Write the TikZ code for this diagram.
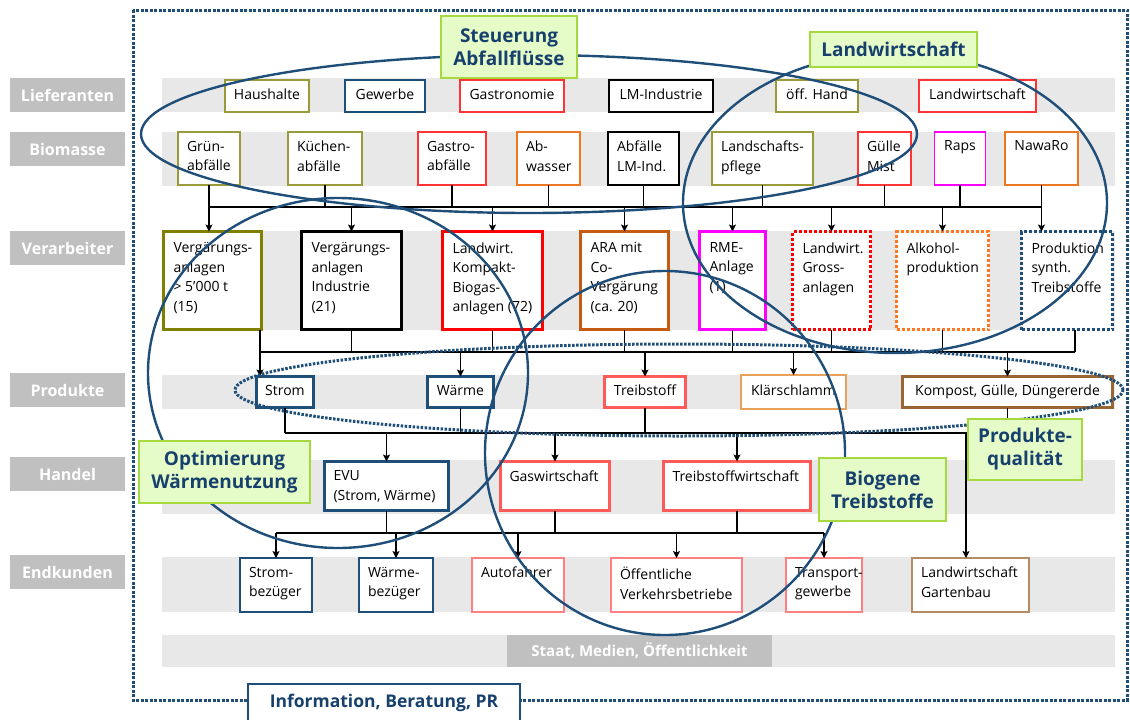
\documentclass[tikz,border=0pt]{standalone}
\usepackage{fontspec}
\setmainfont{Open Sans}
\usetikzlibrary{arrows.meta}
\definecolor{blau}{HTML}{1F4E79}
\definecolor{themablau}{HTML}{17406D}
\definecolor{oliv}{HTML}{9A9A3A}
\definecolor{olivdick}{HTML}{7F7F00}
\definecolor{rot}{HTML}{FF3333}
\definecolor{rotdick}{HTML}{FF0000}
\definecolor{koralle}{HTML}{FF5A5A}
\definecolor{rosa}{HTML}{FF8080}
\definecolor{orangehell}{HTML}{EE7722}
\definecolor{orangepunkt}{HTML}{FF7722}
\definecolor{ara}{HTML}{C55A11}
\definecolor{violett}{HTML}{FF00FF}
\definecolor{braun}{HTML}{996633}
\definecolor{hellbraun}{HTML}{B48C64}
\definecolor{klaer}{HTML}{E8A05A}
\definecolor{bandgrau}{HTML}{E8E8E8}
\definecolor{zeilgrau}{HTML}{C0C0C0}
\definecolor{gruen}{HTML}{E5FCC9}
\definecolor{gruenrand}{HTML}{A6D83F}
\newcommand\boxfont{\fontsize{14}{19.5}\selectfont}

\begin{document}
\begin{tikzpicture}[x=1pt,y=-1pt,>={Stealth[length=7pt,width=7pt,inset=1.5pt]},
  zeile/.style={fill=zeilgrau,text=white,font=\bfseries\fontsize{16}{19}\selectfont,
    minimum width=115,minimum height=34,inner sep=0pt},
  kasten/.style={draw,fill=white,line width=1.2pt,inner sep=0pt,outer sep=0pt,font=\boxfont},
  dick/.style={kasten,line width=3pt},
  punkt/.style={dick,dash pattern=on 3pt off 2pt},
  einzeil/.style={text height=10pt,text depth=3pt},
  txt/.style={font=\boxfont,align=left,inner xsep=9pt,inner ysep=9pt,outer sep=0pt},
  ol/.style={label={[txt,anchor=north west]north west:#1}},
  oc/.style={label={[txt,anchor=north]north:#1}},
  linie/.style={line width=1.1pt},
  ring/.style={draw=blau,line width=2.4pt},
  thema/.style={draw=gruenrand,fill=gruen,line width=1.2pt,text=themablau,
    font=\bfseries\fontsize{19}{23}\selectfont,align=center,inner sep=0pt}]
  \useasboundingbox (0,0) rectangle (1130,720);

  % Baender
  \foreach \ya/\yb in {78/112,132/186,231/330,375/409,460/514,557/612,635/667}
    \fill[bandgrau] (162,\ya) rectangle (1115,\yb);

  % Zeilen
  \foreach \nm/\y/\beschr in {lief/95/Lieferanten,bio/149/Biomasse,verarb/248/Verarbeiter,
      prod/390/Produkte,handel/474/Handel,endk/572/Endkunden}
    \node[zeile] (\nm) at (67.5,\y) {\beschr};
  \node[zeile,minimum width=265,minimum height=32,font=\bfseries\fontsize{15}{18}\selectfont]
    (staat) at (639.5,651) {Staat, Medien, Öffentlichkeit};

  % Rahmen
  \draw[blau,line width=3pt,dash pattern=on 3pt off 1.5pt] (133,10) rectangle (1127,700);

  % Lieferanten
  \foreach \nm/\xa/\xb/\farbe/\beschr in {haus/225/309/oliv/Haushalte,gew/345/425/blau/Gewerbe,
      gas/460/564/rot/Gastronomie,lmi/609/713/black/LM-Industrie,oeff/776/858/oliv/öff. Hand,
      lw/919/1036/rot/Landwirtschaft}
    \node[kasten,draw=\farbe,minimum width={\xb-\xa},minimum height=32,einzeil] (\nm) at ({(\xa+\xb)/2},96) {\beschr};

  % Biomasse
  \foreach \nm/\xa/\xb/\farbe/\beschr in {gruen/178/240/oliv/Grün-\\abfälle,kuech/288/362/oliv/Küchen-\\abfälle,
      gastab/418/486/rot/Gastro-\\abfälle,abw/517/580/orangehell/Ab-\\wasser,lmind/608/679/black/Abfälle\\LM-Ind.,
      lpfl/712/813/oliv/Landschafts-\\pflege,guelle/858/911/rot/Gülle\\Mist}
    \node[kasten,draw=\farbe,minimum width={\xb-\xa},minimum height=53,ol=\beschr] (\nm) at ({(\xa+\xb)/2},158.5) {};
  \node[kasten,draw=violett,minimum width=51,minimum height=53,oc=Raps] (raps) at (960,158.5) {};
  \node[kasten,draw=orangehell,minimum width=73,minimum height=53,oc=NawaRo] (nawaro) at (1041.5,158.5) {};

  % Verarbeiter
  \begin{scope}[txt/.append style={inner xsep=10pt,inner ysep=11pt}]
  \foreach \nm/\xa/\xb/\farbe/\beschr in {v1/162/263/olivdick/Vergärungs-\\anlagen\\> 5’000 t\\(15),
      v2/300/403/black/Vergärungs-\\anlagen\\Industrie\\(21),v3/441/544/rotdick/Landwirt.\\Kompakt-\\Biogas-\\anlagen (72),
      v4/579/670/ara/ARA mit\\Co-\\Vergärung\\(ca. 20),v5/698/767/violett/RME-\\Anlage\\(1)}
    \node[dick,draw=\farbe,minimum width={\xb-\xa-3},minimum height=98,ol=\beschr] (\nm) at ({(\xa+\xb)/2},280.5) {};
  \foreach \nm/\xa/\xb/\farbe/\beschr in {v6/791/872/rotdick/Landwirt.\\Gross-\\anlagen,
      v7/895/990/orangepunkt/Alkohol-\\produktion,v8/1020/1114/blau/Produktion\\synth.\\Treibstoffe}
    \node[punkt,draw=\farbe,minimum width={\xb-\xa-3},minimum height=98,ol=\beschr] (\nm) at ({(\xa+\xb)/2},280.5) {};
  \end{scope}

  % Produkte
  \foreach \nm/\xa/\xb/\farbe/\beschr in {strom/255/315/blau/Strom,waerme/426/495/blau/Wärme,treib/603/687/koralle/Treibstoff}
    \node[dick,draw=\farbe,minimum width={\xb-\xa-3},minimum height=31,einzeil] (\nm) at ({(\xa+\xb)/2},392) {\beschr};
  \node[kasten,draw=klaer,minimum width=105,minimum height=34,einzeil] (klaer) at (793.5,392) {Klärschlamm};
  \node[dick,draw=braun,minimum width=210,minimum height=31,einzeil] (kompost) at (1007.5,392) {Kompost, Gülle, Düngererde};

  % Handel
  \node[dick,draw=blau,minimum width=124,minimum height=49,ol={EVU\\(Strom, Wärme)}] (evu) at (386.5,486) {};
  \node[dick,draw=koralle,minimum width=109,minimum height=49,ol=Gaswirtschaft] (gasw) at (555,486) {};
  \node[dick,draw=koralle,minimum width=147,minimum height=49,ol=Treibstoffwirtschaft] (tsw) at (737,486) {};

  % Endkunden
  \foreach \nm/\xa/\xb/\farbe/\beschr in {sb/240/312/blau/Strom-\\bezüger,wb/359/433/blau/Wärme-\\bezüger,
      autof/472/564/rosa/Autofahrer,oev/611/742/rosa/Öffentliche\\Verkehrsbetriebe,
      trans/786/862/rosa/Transport-\\gewerbe,lwg/912/1029/hellbraun/Landwirtschaft\\Gartenbau}
    \node[kasten,draw=\farbe,minimum width={\xb-\xa},minimum height=54,ol=\beschr] (\nm) at ({(\xa+\xb)/2},585) {};

  % Biomasse - Verarbeiter
  \coordinate (s1) at (0,207);
  \foreach \nm in {gruen,kuech,gastab,abw,lmind,lpfl,guelle,raps,nawaro}
    \draw[linie] (\nm.south) -- (\nm.south |- s1);
  \draw[linie] (gruen.south |- s1) -- (nawaro.south |- s1);
  \draw[linie,->] (gruen.south |- s1) -- (gruen.south |- v1.north);
  \foreach \nm in {v2,v3,v4,v5,v6,v7}
    \draw[linie,->] (\nm.north |- s1) -- (\nm.north);
  \draw[linie,->] (nawaro.south |- s1) -- (nawaro.south |- v8.north);

  % Verarbeiter - Produkte
  \coordinate (s2) at (0,352);
  \coordinate (v1r) at ([xshift=-1.5pt]v1.south east);
  \coordinate (v8u) at ([xshift=8pt]v8.south);
  \draw[linie,->] (v1r) -- (v1r |- strom.north);
  \foreach \nm in {v2,v3,v4,v5,v6,v7}
    \draw[linie] (\nm.south) -- (\nm.south |- s2);
  \draw[linie] (v8u) -- (v8u |- s2);
  \draw[linie] (v1r |- s2) -- (v8u |- s2);
  \foreach \nm in {waerme,treib,klaer,kompost}
    \draw[linie,->] (\nm.north |- s2) -- (\nm.north);

  % Produkte - Handel
  \coordinate (s3) at (0,433);
  \foreach \nm in {strom,waerme,treib,kompost}
    \draw[linie] (\nm.south) -- (\nm.south |- s3);
  \draw[linie] (strom.south |- s3) -- (kompost.south |- s3);
  \foreach \nm in {evu,gasw,tsw}
    \draw[linie,->] (\nm.north |- s3) -- (\nm.north);
  \coordinate (lwgo) at ([xshift=-4.5pt]lwg.north);
  \draw[linie,->] (lwgo |- s3) -- (lwgo);

  % Handel - Endkunden
  \coordinate (s4) at (0,533);
  \foreach \nm in {evu,gasw,tsw}
    \draw[linie] (\nm.south) -- (\nm.south |- s4);
  \draw[linie] (sb.north |- s4) -- (trans.north |- s4);
  \foreach \nm in {sb,wb,autof,oev,trans}
    \draw[linie,->] (\nm.north |- s4) -- (\nm.north);

  % Kreise
  \draw[ring] (529,134) ellipse [x radius=388pt,y radius=79pt];
  \draw[ring] (895,203) ellipse [x radius=212pt,y radius=150pt];
  \draw[ring] (338,373) ellipse [x radius=190pt,y radius=175pt];
  \draw[ring] (665,453) ellipse [x radius=180pt,y radius=182pt];
  \draw[ring,line width=3pt,dash pattern=on 2.5pt off 1.5pt] (679,390) ellipse [x radius=444pt,y radius=46pt];

  % Themen
  \node[thema,minimum width=136,minimum height=62] (steuer) at (509,47) {Steuerung\\Abfallflüsse};
  \node[thema,minimum width=167,minimum height=35] (landw) at (893.5,49.5) {Landwirtschaft};
  \node[thema,minimum width=171,minimum height=62] (optim) at (224.5,472) {Optimierung\\Wärmenutzung};
  \node[thema,minimum width=127,minimum height=63] (biogen) at (882.5,489.5) {Biogene\\Treibstoffe};
  \node[thema,minimum width=114,minimum height=61] (qualitaet) at (1025,449.5) {Produkte-\\qualität};

  % Information
  \node[draw=blau,fill=white,line width=1.2pt,minimum width=272,minimum height=38,inner sep=0pt,
    text=themablau,font=\bfseries\fontsize{17.5}{20}\selectfont] (info) at (384,703) {Information, Beratung, PR};
\end{tikzpicture}
\end{document}
